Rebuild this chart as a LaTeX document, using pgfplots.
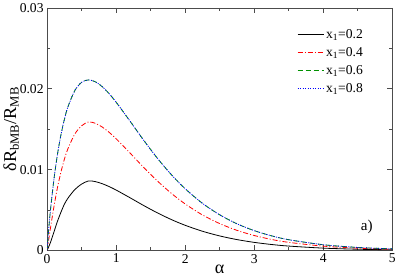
\documentclass[border=0pt]{standalone}
\usepackage{pgfplots}
\pgfplotsset{compat=1.18}
\usepackage{fontspec}
\setmainfont{Liberation Serif}
\definecolor{mygreen}{RGB}{0,145,0}
\begin{document}
\begin{tikzpicture}
\begin{axis}[
  scale only axis, width=343pt, height=241pt,
  xmin=0, xmax=5, ymin=0, ymax=0.03,
  xtick={0,1,2,3,4,5}, ytick={0,0.01,0.02,0.03},
  yticklabels={0,0.01,0.02,0.03},
  minor xtick={0.5,1.5,2.5,3.5,4.5},
  minor ytick={0.005,0.015,0.025},
  tick align=inside,
  major tick length=5pt, minor tick length=3pt,
  axis line style={draw=black!70, line width=0.8pt},
  every tick/.style={black!70, line width=0.6pt},
  /pgf/number format/assume math mode=true,
  scaled y ticks=false,
  tick label style={font=\fontsize{13.5}{14}\selectfont},
  xlabel={\fontsize{18}{18}\selectfont α},
  ylabel={\fontsize{18}{18}\selectfont δR\textsubscript{bMB}/R\textsubscript{MB}},
  xlabel style={yshift=5pt},
  ylabel style={yshift=-6pt},
  legend style={draw=none, fill=none, at={(0.93,0.93)}, anchor=north east,
    font=\fontsize{13.5}{14}\selectfont, row sep=3.5pt},
  legend cell align=left,
  legend image code/.code={\draw[#1] (0pt,0pt) -- (26pt,0pt);},
  every axis plot/.append style={line width=0.8pt},
]
\addplot[black, smooth] coordinates {
(0,0)(0.05,0.001032)(0.1,0.002322)(0.15,0.003612)(0.2,0.004730)(0.25,0.005719)(0.3,0.006450)(0.4,0.007525)(0.5,0.008213)(0.6,0.0086)(0.7,0.008514)(0.8,0.008256)(0.9,0.007895)(1.0,0.007473)(1.2,0.006525)(1.4,0.005553)(1.6,0.004639)(1.8,0.003821)(2.0,0.003112)(2.25,0.002378)(2.5,0.001797)(2.75,0.001346)(3.0,0.001000)(3.25,0.000739)(3.5,0.000543)(4.0,0.000289)(4.5,0.000152)(5.0,0.000079)};
\addlegendentry{x\textsubscript{1}=0.2}
\addplot[red, smooth, dash pattern=on 5pt off 2pt on 1pt off 2pt] coordinates {
(0,0)(0.05,0.002862)(0.1,0.005486)(0.15,0.007791)(0.2,0.009699)(0.25,0.011289)(0.3,0.012561)(0.4,0.014390)(0.5,0.015423)(0.6,0.0159)(0.7,0.015725)(0.8,0.015259)(0.9,0.014603)(1.0,0.013817)(1.2,0.012063)(1.4,0.010267)(1.6,0.008576)(1.8,0.007064)(2.0,0.005754)(2.25,0.004396)(2.5,0.003323)(2.75,0.002488)(3.0,0.001849)(3.25,0.001366)(3.5,0.001003)(4.0,0.000534)(4.5,0.000281)(5.0,0.000146)};
\addlegendentry{x\textsubscript{1}=0.4}
\addplot[mygreen, smooth, dash pattern=on 5pt off 3pt] coordinates {
(0,0)(0.02,0.002359)(0.05,0.005146)(0.1,0.008906)(0.15,0.011903)(0.2,0.014306)(0.25,0.016220)(0.3,0.017735)(0.4,0.019771)(0.5,0.020805)(0.6,0.0211)(0.7,0.020864)(0.8,0.020250)(0.9,0.019378)(1.0,0.018336)(1.2,0.016009)(1.4,0.013624)(1.6,0.011381)(1.8,0.009375)(2.0,0.007636)(2.25,0.005834)(2.5,0.004410)(2.75,0.003302)(3.0,0.002454)(3.25,0.001812)(3.5,0.001331)(4.0,0.000709)(4.5,0.000373)(5.0,0.000193)};
\addlegendentry{x\textsubscript{1}=0.6}
\addplot[blue, smooth, dash pattern=on 1pt off 1.5pt] coordinates {
(0,0)(0.02,0.002359)(0.05,0.005146)(0.1,0.008906)(0.15,0.011903)(0.2,0.014306)(0.25,0.016220)(0.3,0.017735)(0.4,0.019771)(0.5,0.020805)(0.6,0.0211)(0.7,0.020864)(0.8,0.020250)(0.9,0.019378)(1.0,0.018336)(1.2,0.016009)(1.4,0.013624)(1.6,0.011381)(1.8,0.009375)(2.0,0.007636)(2.25,0.005834)(2.5,0.004410)(2.75,0.003302)(3.0,0.002454)(3.25,0.001812)(3.5,0.001331)(4.0,0.000709)(4.5,0.000373)(5.0,0.000193)};
\addlegendentry{x\textsubscript{1}=0.8}
\node[font=\fontsize{15}{16}\selectfont] at (axis cs:4.63,0.0029) {a)};
\end{axis}
\end{tikzpicture}
\end{document}
